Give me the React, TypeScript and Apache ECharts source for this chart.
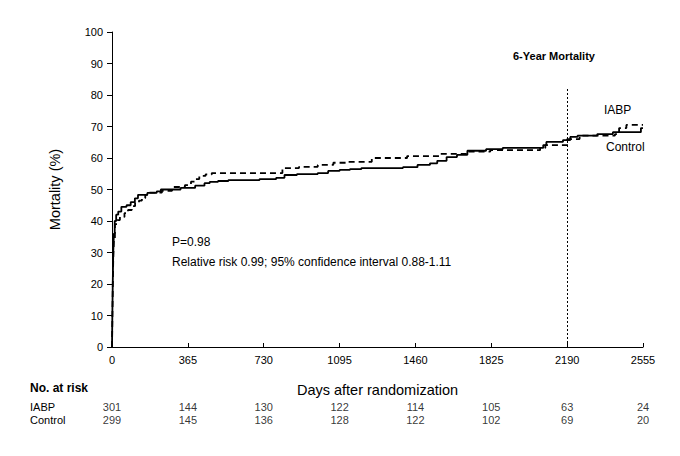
import React, { useEffect, useRef } from "react";
import * as echarts from "echarts";

const xTicks = [0, 365, 730, 1095, 1460, 1825, 2190, 2555];

// Control (solid) cumulative mortality [day, %]
const controlCurve: [number, number][] = [
  [0, 0], [2, 12], [4, 22], [6, 30], [9, 36], [13, 40], [20, 42], [30, 43],
  [45, 44.5], [70, 45], [90, 46], [110, 47.2], [125, 48.3], [170, 48.9],
  [215, 49.4], [235, 50], [330, 50.5], [400, 51.2], [445, 52], [470, 52.4],
  [510, 52.7], [560, 53], [710, 53.3], [790, 53.7], [830, 54.6], [890, 54.9],
  [990, 55.2], [1040, 55.9], [1095, 56.2], [1145, 56.5], [1200, 56.8],
  [1400, 57.1], [1470, 57.8], [1530, 58.3], [1565, 59.1], [1610, 60.3],
  [1660, 61], [1710, 62.3], [1800, 62.8], [1880, 63.2], [2075, 64.1],
  [2090, 65.1], [2170, 65.7], [2205, 66.7], [2240, 67.1], [2335, 67.6],
  [2410, 68.2], [2545, 69.5], [2555, 69.5],
];

// IABP (dashed) cumulative mortality [day, %]
const iabpCurve: [number, number][] = [
  [0, 0], [2, 10], [4, 20], [6, 28], [9, 34], [14, 39], [25, 40.3],
  [38, 41.3], [60, 42.5], [77, 43.5], [95, 44.7], [111, 45.7], [130, 46.5],
  [144, 47.3], [160, 48.3], [173, 49], [240, 49.6], [289, 50.8], [351, 51.4],
  [380, 52.5], [400, 53.3], [420, 54.3], [450, 54.8], [480, 55.2],
  [820, 56.8], [900, 57.2], [990, 57.8], [1065, 58.5], [1130, 58.8],
  [1250, 60], [1420, 60.6], [1580, 61.3], [1710, 62], [1820, 62.5],
  [2060, 63.2], [2085, 64.1], [2190, 66], [2250, 67.1], [2420, 67.6],
  [2440, 69.5], [2475, 70.5], [2555, 70.5],
];

const riskDays = [0, 365, 730, 1095, 1460, 1825, 2190, 2555];
const riskIABP = [301, 144, 130, 122, 114, 105, 63, 24];
const riskControl = [299, 145, 136, 128, 122, 102, 69, 20];
const riskGroups = ["IABP", "Control"];

const FONT = "'Liberation Sans', Arial, sans-serif";

export default function App() {
  const ref = useRef<HTMLDivElement>(null);
  useEffect(() => {
    if (!ref.current) return;
    const chart = echarts.init(ref.current, null, { renderer: "svg" });
    const riskData = [
      ...riskDays.map((d, i) => [d, riskGroups[0], riskIABP[i]]),
      ...riskDays.map((d, i) => [d, riskGroups[1], riskControl[i]]),
    ];
    chart.setOption({
      animation: false,
      backgroundColor: "#fff",
      textStyle: { fontFamily: FONT, color: "#000" },
      grid: [
        { left: 112, right: 37, top: 32, bottom: 109 },
        { left: 112, right: 37, top: 400, height: 26 },
      ],
      xAxis: [
        {
          type: "value",
          gridIndex: 0,
          min: xTicks[0],
          max: xTicks[xTicks.length - 1],
          interval: 365,
          name: "Days after randomization",
          nameLocation: "middle",
          nameGap: 35,
          nameTextStyle: { fontSize: 14.5, color: "#000", fontFamily: FONT },
          axisLine: { lineStyle: { color: "#000", width: 1 } },
          axisTick: { inside: true, length: 4, lineStyle: { color: "#000" } },
          axisLabel: {
            fontSize: 11,
            color: "#000",
            margin: 7,
            fontFamily: FONT,
            formatter: (v: number) => String(v),
          },
          splitLine: { show: false },
        },
        {
          type: "value",
          gridIndex: 1,
          min: xTicks[0],
          max: xTicks[xTicks.length - 1],
          show: false,
        },
      ],
      yAxis: [
        {
          type: "value",
          gridIndex: 0,
          min: 0,
          max: 100,
          interval: 10,
          name: "Mortality (%)",
          nameLocation: "middle",
          nameGap: 50,
          nameTextStyle: { fontSize: 14.5, color: "#000", fontFamily: FONT },
          axisLine: { show: true, lineStyle: { color: "#000", width: 1 } },
          axisTick: { show: true, length: 5, lineStyle: { color: "#000" } },
          axisLabel: { fontSize: 11, color: "#000", margin: 9, fontFamily: FONT },
          splitLine: { show: false },
        },
        {
          type: "category",
          gridIndex: 1,
          data: riskGroups,
          inverse: true,
          axisLine: { show: false },
          axisTick: { show: false },
          splitLine: { show: false },
          axisLabel: {
            interval: 0,
            align: "left",
            margin: 82,
            fontSize: 11,
            color: "#000",
            fontFamily: FONT,
          },
        },
      ],
      series: [
        {
          name: "Control",
          type: "line",
          step: "end",
          xAxisIndex: 0,
          yAxisIndex: 0,
          data: controlCurve,
          symbol: "none",
          lineStyle: { color: "#000", width: 1.8 },
          markLine: {
            silent: true,
            symbol: "none",
            label: { show: false },
            lineStyle: { color: "#000", width: 1, type: [2, 2] },
            data: [[{ coord: [2190, 0] }, { coord: [2190, 82] }]],
          },
        },
        {
          name: "IABP",
          type: "line",
          step: "end",
          xAxisIndex: 0,
          yAxisIndex: 0,
          data: iabpCurve,
          symbol: "none",
          lineStyle: { color: "#000", width: 1.8, type: [6, 4] },
        },
        {
          type: "scatter",
          xAxisIndex: 1,
          yAxisIndex: 1,
          data: riskData,
          symbolSize: 1,
          itemStyle: { color: "rgba(0,0,0,0)" },
          label: {
            show: true,
            position: "inside",
            formatter: (p: any) => String(p.value[2]),
            fontSize: 11,
            color: "#000",
            fontFamily: FONT,
          },
        },
      ],
      graphic: [
        {
          type: "text",
          left: 568 - 55,
          top: 50,
          style: {
            text: "6-Year Mortality",
            font: `bold 11px ${FONT}`,
            fill: "#000",
          },
        },
        {
          type: "text",
          left: 604,
          top: 104,
          style: { text: "IABP", font: `12px ${FONT}`, fill: "#000" },
        },
        {
          type: "text",
          left: 606,
          top: 141,
          style: { text: "Control", font: `12px ${FONT}`, fill: "#000" },
        },
        {
          type: "text",
          left: 172,
          top: 236,
          style: { text: "P=0.98", font: `12px ${FONT}`, fill: "#000" },
        },
        {
          type: "text",
          left: 172,
          top: 256,
          style: {
            text: "Relative risk 0.99; 95% confidence interval 0.88-1.11",
            font: `12px ${FONT}`,
            fill: "#000",
          },
        },
        {
          type: "text",
          left: 30,
          top: 382,
          style: { text: "No. at risk", font: `bold 12px ${FONT}`, fill: "#000" },
        },
      ],
    });
    return () => chart.dispose();
  }, []);
  return (
    <div
      ref={ref}
      style={{ position: "fixed", left: 0, top: 0, width: 680, height: 456 }}
    />
  );
}
